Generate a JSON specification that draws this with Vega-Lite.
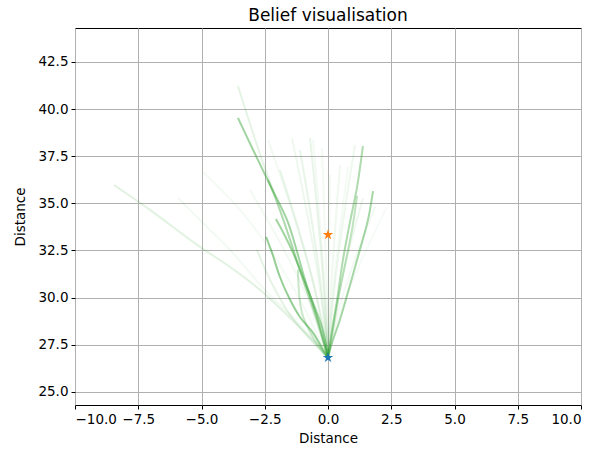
{
  "$schema": "https://vega.github.io/schema/vega-lite/v6.json",
  "width": 506,
  "height": 377,
  "autosize": {"type": "none"},
  "padding": {"left": 75, "top": 28, "right": 26, "bottom": 45},
  "background": "white",
  "title": {"text": "Belief visualisation", "fontSize": 17, "font": "DejaVu Sans", "fontWeight": "normal", "color": "black", "offset": 3, "anchor": "middle"},
  "config": {
    "font": "DejaVu Sans",
    "view": {"stroke": "black", "strokeWidth": 1},
    "axis": {"grid": true, "gridColor": "#b0b0b0", "gridWidth": 1, "domain": false, "tickColor": "black", "tickSize": 4, "labelColor": "black", "labelFontSize": 13.5, "labelFont": "DejaVu Sans", "titleFont": "DejaVu Sans", "titleFontSize": 13.5, "titleFontWeight": "normal", "titleColor": "black", "labelPadding": 3}
  },
  "layer": [
    {
      "data": {"values": [
        {"id":"T1","w":0.45,"s":0,"x":0,"y":26.8},{"id":"T1","w":0.45,"s":1,"x":-0.40,"y":28.81},{"id":"T1","w":0.45,"s":2,"x":-0.91,"y":30.94},{"id":"T1","w":0.45,"s":3,"x":-1.30,"y":32.79},{"id":"T1","w":0.45,"s":4,"x":-1.62,"y":34.12},{"id":"T1","w":0.45,"s":5,"x":-2.29,"y":35.97},{"id":"T1","w":0.45,"s":6,"x":-2.92,"y":37.72},{"id":"T1","w":0.45,"s":7,"x":-3.56,"y":39.53},
        {"id":"T2","w":0.3,"s":0,"x":0,"y":26.8},{"id":"T2","w":0.3,"s":1,"x":-0.43,"y":28.81},{"id":"T2","w":0.3,"s":2,"x":-0.99,"y":30.94},{"id":"T2","w":0.3,"s":3,"x":-1.50,"y":33.06},{"id":"T2","w":0.3,"s":4,"x":-1.98,"y":34.91},{"id":"T2","w":0.3,"s":5,"x":-2.37,"y":36.24},
        {"id":"T3","w":0.12,"s":0,"x":0,"y":26.8},{"id":"T3","w":0.12,"s":1,"x":-0.47,"y":28.81},{"id":"T3","w":0.12,"s":2,"x":-1.11,"y":31.47},{"id":"T3","w":0.12,"s":3,"x":-1.82,"y":34.38},{"id":"T3","w":0.12,"s":4,"x":-2.61,"y":37.30},{"id":"T3","w":0.12,"s":5,"x":-3.56,"y":41.22},
        {"id":"T4","w":0.5,"s":0,"x":0,"y":26.8},{"id":"T4","w":0.5,"s":1,"x":-0.24,"y":27.33},{"id":"T4","w":0.5,"s":2,"x":-0.59,"y":28.13},{"id":"T4","w":0.5,"s":3,"x":-1.11,"y":28.97},{"id":"T4","w":0.5,"s":4,"x":-1.50,"y":29.88},{"id":"T4","w":0.5,"s":5,"x":-1.90,"y":31.09},{"id":"T4","w":0.5,"s":6,"x":-2.21,"y":32.37},{"id":"T4","w":0.5,"s":7,"x":-2.45,"y":33.22},
        {"id":"T5","w":0.45,"s":0,"x":0,"y":26.8},{"id":"T5","w":0.45,"s":1,"x":-0.04,"y":27.22},{"id":"T5","w":0.45,"s":2,"x":-0.24,"y":28.44},{"id":"T5","w":0.45,"s":3,"x":-0.59,"y":29.72},{"id":"T5","w":0.45,"s":4,"x":-0.99,"y":31.09},{"id":"T5","w":0.45,"s":5,"x":-1.38,"y":32.37},{"id":"T5","w":0.45,"s":6,"x":-1.78,"y":33.48},{"id":"T5","w":0.45,"s":7,"x":-2.06,"y":34.17},
        {"id":"T6","w":0.38,"s":0,"x":0,"y":26.8},{"id":"T6","w":0.38,"s":1,"x":0.16,"y":28.28},{"id":"T6","w":0.38,"s":2,"x":0.36,"y":29.88},{"id":"T6","w":0.38,"s":3,"x":0.59,"y":32.0},{"id":"T6","w":0.38,"s":4,"x":0.87,"y":34.01},{"id":"T6","w":0.38,"s":5,"x":1.15,"y":35.87},{"id":"T6","w":0.38,"s":6,"x":1.38,"y":38.04},
        {"id":"T7","w":0.42,"s":0,"x":0,"y":26.8},{"id":"T7","w":0.42,"s":1,"x":0.16,"y":27.6},{"id":"T7","w":0.42,"s":2,"x":0.47,"y":28.81},{"id":"T7","w":0.42,"s":3,"x":0.87,"y":30.67},{"id":"T7","w":0.42,"s":4,"x":1.26,"y":32.53},{"id":"T7","w":0.42,"s":5,"x":1.58,"y":34.12},{"id":"T7","w":0.42,"s":6,"x":1.78,"y":35.65},
        {"id":"T8","w":0.3,"s":0,"x":0,"y":26.8},{"id":"T8","w":0.3,"s":1,"x":0.16,"y":28.02},{"id":"T8","w":0.3,"s":2,"x":0.40,"y":29.88},{"id":"T8","w":0.3,"s":3,"x":0.67,"y":31.73},{"id":"T8","w":0.3,"s":4,"x":0.95,"y":33.59},{"id":"T8","w":0.3,"s":5,"x":1.15,"y":35.39},
        {"id":"T9","w":0.14,"s":0,"x":0,"y":26.8},{"id":"T9","w":0.14,"s":1,"x":-0.51,"y":27.6},{"id":"T9","w":0.14,"s":2,"x":-1.50,"y":28.92},{"id":"T9","w":0.14,"s":3,"x":-2.69,"y":30.41},{"id":"T9","w":0.14,"s":4,"x":-3.87,"y":31.62},{"id":"T9","w":0.14,"s":5,"x":-5.06,"y":32.69},{"id":"T9","w":0.14,"s":6,"x":-7.04,"y":34.65},{"id":"T9","w":0.14,"s":7,"x":-8.46,"y":35.97},
        {"id":"T10","w":0.06,"s":0,"x":0,"y":26.8},{"id":"T10","w":0.06,"s":1,"x":-1.11,"y":28.55},{"id":"T10","w":0.06,"s":2,"x":-2.49,"y":30.41},{"id":"T10","w":0.06,"s":3,"x":-3.87,"y":32.53},{"id":"T10","w":0.06,"s":4,"x":-4.86,"y":33.85},{"id":"T10","w":0.06,"s":5,"x":-5.93,"y":35.28},
        {"id":"T11","w":0.05,"s":0,"x":0,"y":26.8},{"id":"T11","w":0.05,"s":1,"x":-1.11,"y":29.88},{"id":"T11","w":0.05,"s":2,"x":-2.29,"y":32.53},{"id":"T11","w":0.05,"s":3,"x":-3.48,"y":34.65},{"id":"T11","w":0.05,"s":4,"x":-4.94,"y":36.66},
        {"id":"T12","w":0.12,"s":0,"x":0,"y":26.8},{"id":"T12","w":0.12,"s":1,"x":-0.51,"y":27.49},{"id":"T12","w":0.12,"s":2,"x":-1.50,"y":29.08},{"id":"T12","w":0.12,"s":3,"x":-2.29,"y":30.94},{"id":"T12","w":0.12,"s":4,"x":-2.81,"y":32.53},
        {"id":"T14","w":0.25,"s":0,"x":0,"y":26.8},{"id":"T14","w":0.25,"s":1,"x":-0.6,"y":27.9},{"id":"T14","w":0.25,"s":2,"x":-1.03,"y":29.19},{"id":"T14","w":0.25,"s":3,"x":-1.19,"y":31.47},
        {"id":"F1","w":0.06,"s":0,"x":0,"y":26.8},{"id":"F1","w":0.06,"s":1,"x":-0.561,"y":30.62},{"id":"F1","w":0.06,"s":2,"x":-1.383,"y":34.43},{"id":"F1","w":0.06,"s":3,"x":-2.372,"y":38.36},
        {"id":"F2","w":0.08,"s":0,"x":0,"y":26.8},{"id":"F2","w":0.08,"s":1,"x":-0.336,"y":30.65},{"id":"F2","w":0.08,"s":2,"x":-0.83,"y":34.5},{"id":"F2","w":0.08,"s":3,"x":-1.423,"y":38.46},
        {"id":"F3","w":0.1,"s":0,"x":0,"y":26.8},{"id":"F3","w":0.1,"s":1,"x":-0.17,"y":30.65},{"id":"F3","w":0.1,"s":2,"x":-0.415,"y":34.5},{"id":"F3","w":0.1,"s":3,"x":-0.711,"y":38.46},
        {"id":"F4","w":0.06,"s":0,"x":0,"y":26.8},{"id":"F4","w":0.06,"s":1,"x":-0.142,"y":30.62},{"id":"F4","w":0.06,"s":2,"x":-0.344,"y":34.43},{"id":"F4","w":0.06,"s":3,"x":-0.593,"y":38.36},
        {"id":"F5","w":0.05,"s":0,"x":0,"y":26.8},{"id":"F5","w":0.05,"s":1,"x":0.186,"y":30.14},{"id":"F5","w":0.05,"s":2,"x":0.462,"y":33.48},{"id":"F5","w":0.05,"s":3,"x":0.791,"y":36.93},
        {"id":"F6","w":0.08,"s":0,"x":0,"y":26.8},{"id":"F6","w":0.08,"s":1,"x":0.328,"y":29.6},{"id":"F6","w":0.08,"s":2,"x":0.806,"y":32.4},{"id":"F6","w":0.08,"s":3,"x":1.383,"y":35.28},
        {"id":"F7","w":0.06,"s":0,"x":0,"y":26.8},{"id":"F7","w":0.06,"s":1,"x":0.439,"y":29.44},{"id":"F7","w":0.06,"s":2,"x":1.083,"y":32.09},{"id":"F7","w":0.06,"s":3,"x":1.858,"y":34.81},
        {"id":"F8","w":0.04,"s":0,"x":0,"y":26.8},{"id":"F8","w":0.04,"s":1,"x":0.553,"y":29.44},{"id":"F8","w":0.04,"s":2,"x":1.36,"y":32.09},{"id":"F8","w":0.04,"s":3,"x":2.332,"y":34.81},
        {"id":"F9","w":0.07,"s":0,"x":0,"y":26.8},{"id":"F9","w":0.07,"s":1,"x":0.111,"y":30.18},{"id":"F9","w":0.07,"s":2,"x":0.277,"y":33.56},{"id":"F9","w":0.07,"s":3,"x":0.474,"y":37.03},
        {"id":"F10","w":0.1,"s":0,"x":0,"y":26.8},{"id":"F10","w":0.1,"s":1,"x":-0.261,"y":30.44},{"id":"F10","w":0.1,"s":2,"x":-0.644,"y":34.08},{"id":"F10","w":0.1,"s":3,"x":-1.107,"y":37.83},
        {"id":"F11","w":0.06,"s":0,"x":0,"y":26.8},{"id":"F11","w":0.06,"s":1,"x":-0.055,"y":30.47},{"id":"F11","w":0.06,"s":2,"x":-0.138,"y":34.15},{"id":"F11","w":0.06,"s":3,"x":-0.237,"y":37.93},
        {"id":"F12","w":0.05,"s":0,"x":0,"y":26.8},{"id":"F12","w":0.05,"s":1,"x":0.02,"y":30.0},{"id":"F12","w":0.05,"s":2,"x":0.047,"y":33.21},{"id":"F12","w":0.05,"s":3,"x":0.079,"y":36.5},
        {"id":"F13","w":0.1,"s":0,"x":0,"y":26.8},{"id":"F13","w":0.1,"s":1,"x":-0.451,"y":30.09},{"id":"F13","w":0.1,"s":2,"x":-1.107,"y":33.37},{"id":"F13","w":0.1,"s":3,"x":-1.897,"y":36.77},
        {"id":"F14","w":0.06,"s":0,"x":0,"y":26.8},{"id":"F14","w":0.06,"s":1,"x":-0.731,"y":29.74},{"id":"F14","w":0.06,"s":2,"x":-1.798,"y":32.68},{"id":"F14","w":0.06,"s":3,"x":-3.083,"y":35.71},
        {"id":"F15","w":0.08,"s":0,"x":0,"y":26.8},{"id":"F15","w":0.08,"s":1,"x":0.253,"y":30.53},{"id":"F15","w":0.08,"s":2,"x":0.621,"y":34.25},{"id":"F15","w":0.08,"s":3,"x":1.067,"y":38.09}
      ]},
      "mark": {"type": "line", "color": "#2ca02c", "strokeWidth": 2, "clip": true, "interpolate": "catmull-rom"},
      "encoding": {
        "x": {"field": "x", "type": "quantitative", "scale": {"domain": [-10, 10], "nice": false, "zero": false}, "axis": {"title": "Distance", "values": [-10, -7.5, -5, -2.5, 0, 2.5, 5, 7.5, 10], "format": ".1f", "titlePadding": 6}},
        "y": {"field": "y", "type": "quantitative", "scale": {"domain": [24.3, 44.3], "nice": false, "zero": false}, "axis": {"title": "Distance", "values": [25, 27.5, 30, 32.5, 35, 37.5, 40, 42.5], "format": ".1f", "titlePadding": 10}},
        "detail": {"field": "id", "type": "nominal"},
        "order": {"field": "s", "type": "quantitative"},
        "opacity": {"field": "w", "type": "quantitative", "scale": {"domain": [0, 1], "range": [0, 1]}, "legend": null}
      }
    },
    {
      "data": {"values": [
        {"name": "goal", "x": 0, "y": 33.33},
        {"name": "start", "x": 0, "y": 26.81}
      ]},
      "mark": {"type": "point", "filled": true, "opacity": 1, "size": 120, "shape": "M0,-1L0.2245,-0.309L0.951,-0.309L0.363,0.118L0.588,0.809L0,0.382L-0.588,0.809L-0.363,0.118L-0.951,-0.309L-0.2245,-0.309Z"},
      "encoding": {
        "x": {"field": "x", "type": "quantitative"},
        "y": {"field": "y", "type": "quantitative"},
        "color": {"field": "name", "type": "nominal", "scale": {"domain": ["goal", "start"], "range": ["#ff7f0e", "#1f77b4"]}, "legend": null}
      }
    }
  ]
}
